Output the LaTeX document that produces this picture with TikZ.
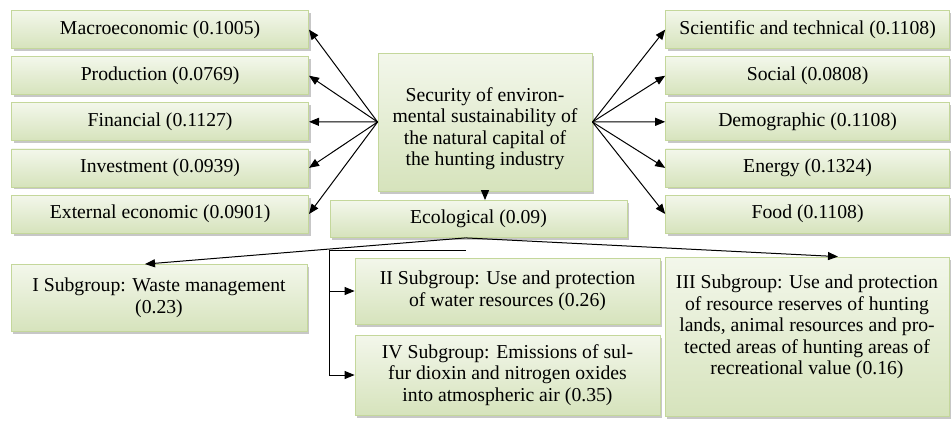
\documentclass[tikz,border=0pt]{standalone}
\usepackage{fontspec}
\setmainfont{Liberation Serif}
\usetikzlibrary{arrows.meta,shadows,calc}
\definecolor{boxtop}{RGB}{243,247,235}
\definecolor{boxbot}{RGB}{214,227,188}
\definecolor{boxline}{RGB}{196,215,155}
\tikzset{
    factor/.style={draw=boxline, line width=0.8pt, top color=boxtop, bottom color=boxbot,
        drop shadow={shadow xshift=2pt, shadow yshift=-2.5pt, fill=black!40, opacity=.55},
        inner sep=2pt, align=center, font=\fontsize{19.7}{21.5}\selectfont},
    link/.style={-{Triangle[length=10pt,width=8pt]}, line width=1pt, black},
}
\begin{document}
\begin{tikzpicture}[x=1pt, y=-1pt]
    \useasboundingbox (0,0) rectangle (951,424);
    % economic factors on the left
    \matrix (left col) [anchor=north west, inner sep=0pt, row sep=7.3pt,
        nodes={factor, minimum width=297pt, minimum height=38pt}] at (11,10) {
        \node (macro) {Macroeconomic (0.1005)}; \\
        \node (prod) {Production (0.0769)}; \\
        \node (fin) {Financial (0.1127)}; \\
        \node (invest) {Investment (0.0939)}; \\
        \node (extern) {External economic (0.0901)}; \\
    };
    % social factors on the right
    \matrix (right col) [anchor=north west, inner sep=0pt, row sep=7.3pt,
        nodes={factor, minimum width=284pt, minimum height=38pt}] at (665,10) {
        \node (sci) {Scientific and technical (0.1108)}; \\
        \node (soc) {Social (0.0808)}; \\
        \node (demo) {Demographic (0.1108)}; \\
        \node (energy) {Energy (0.1324)}; \\
        \node (food) {Food (0.1108)}; \\
    };
    \node[factor, minimum width=214pt, minimum height=138pt] (core) at (485,122)
        {\rule{0pt}{27pt}Security of environ-\\mental sustainability of\\the natural capital of\\the hunting industry};
    \node[factor, minimum width=297pt, minimum height=37pt] (eco) at (478.5,219) {Ecological (0.09)};
    % subgroups
    \node[factor, minimum width=296pt, minimum height=67pt] (sub1) at (159,298)
        {I Subgroup: Waste management\\(0.23)};
    \node[factor, minimum width=305pt, minimum height=66pt] (sub2) at (507.5,291)
        {II Subgroup: Use and protection\\of water resources (0.26)};
    \node[factor, minimum width=305pt, minimum height=80pt] (sub4) at (507.5,375)
        {IV Subgroup: Emissions of sul-\\fur dioxin and nitrogen oxides\\into atmospheric air (0.35)};
    \node[factor, minimum width=284pt, minimum height=159pt] (sub3) at (807,336.5)
        {III Subgroup: Use and protection\\of resource reserves of hunting\\lands, animal resources and pro-\\tected areas of hunting areas of\\recreational value (0.16)\rule[-23pt]{0pt}{0pt}};
    % connectors
    \foreach \f in {macro,prod,fin,invest,extern}
        \draw[link] (core.west) -- (\f.east);
    \foreach \f in {sci,soc,demo,energy,food}
        \draw[link] (core.east) -- (\f.west);
    \draw[link] (core.south) -- (core.south |- eco.north);
    \coordinate (fork) at ($(eco.south)+(-13,0)$);
    \coordinate (bus end) at ($(fork)+(0,13)$);
    \coordinate (bus corner) at (eco.west |- bus end);
    \draw[link] (fork) -- ($(sub1.north)+(-14,0)$);
    \draw[link] (fork) -- ($(sub3.north)+(31,0)$);
    \draw[link] (bus end) -- (bus corner) |- (sub2.west);
    \draw[link] (bus corner) |- (sub4.west);
\end{tikzpicture}
\end{document}
